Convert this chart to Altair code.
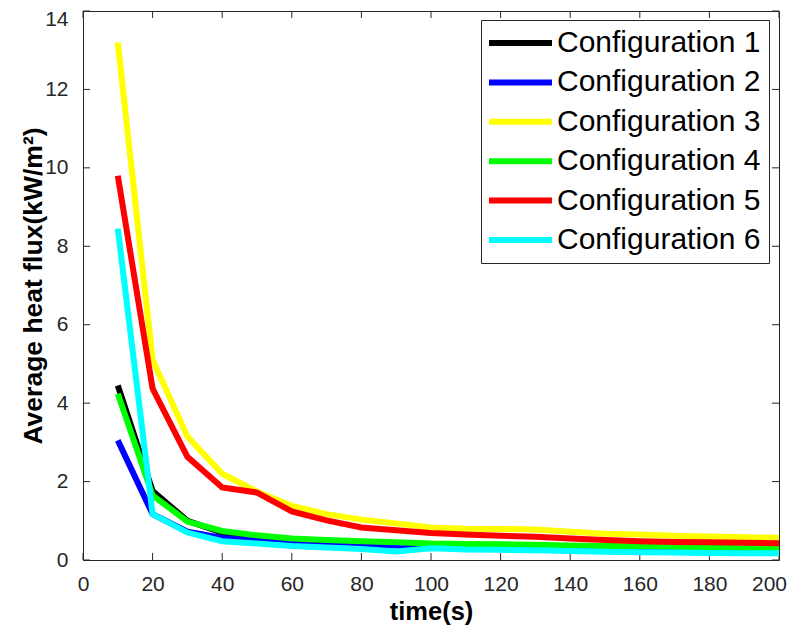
import altair as alt
import pandas as pd

# time axis (s) and average heat flux (kW/m^2) per configuration
times = [10, 20, 30, 40, 50, 60, 70, 80, 90, 100,
         110, 120, 130, 140, 150, 160, 170, 180, 190, 200]

config_1 = [4.45, 1.76, 1.00, 0.70, 0.58, 0.50, 0.46, 0.43, 0.40, 0.38,
            0.37, 0.36, 0.35, 0.33, 0.32, 0.31, 0.30, 0.29, 0.28, 0.27]
config_2 = [3.05, 1.17, 0.72, 0.56, 0.50, 0.46, 0.43, 0.40, 0.37, 0.35,
            0.33, 0.32, 0.31, 0.29, 0.27, 0.25, 0.23, 0.21, 0.19, 0.18]
config_3 = [13.2, 5.10, 3.15, 2.20, 1.74, 1.38, 1.17, 1.03, 0.93, 0.83,
            0.80, 0.79, 0.78, 0.72, 0.67, 0.65, 0.62, 0.60, 0.58, 0.57]
config_4 = [4.24, 1.65, 0.98, 0.74, 0.63, 0.55, 0.51, 0.48, 0.45, 0.42,
            0.41, 0.40, 0.39, 0.37, 0.36, 0.35, 0.34, 0.32, 0.31, 0.30]
config_5 = [9.80, 4.37, 2.63, 1.85, 1.72, 1.24, 1.01, 0.83, 0.76, 0.69,
            0.65, 0.62, 0.59, 0.55, 0.51, 0.48, 0.46, 0.45, 0.44, 0.43]
config_6 = [8.45, 1.17, 0.70, 0.48, 0.42, 0.36, 0.32, 0.28, 0.22, 0.30,
            0.27, 0.26, 0.25, 0.23, 0.21, 0.20, 0.19, 0.18, 0.17, 0.17]

names = ['Configuration 1', 'Configuration 2', 'Configuration 3',
         'Configuration 4', 'Configuration 5', 'Configuration 6']
colors = ['#000000', '#0000FF', '#FFFF00', '#00FF00', '#FF0000', '#00FFFF']

x_ticks = [0, 20, 40, 60, 80, 100, 120, 140, 160, 180, 200]
y_ticks = [0, 2, 4, 6, 8, 10, 12, 14]

series = [config_1, config_2, config_3, config_4, config_5, config_6]
rows = []
for i, (name, vals) in enumerate(zip(names, series)):
    for t, v in zip(times, vals):
        rows.append({'time': t, 'flux': v, 'config': name, 'order': i})
df = pd.DataFrame(rows)

W, H = 696, 549
AXC = '#262626'
xs = alt.Scale(domain=[0, 200], nice=False)
ys = alt.Scale(domain=[0, 14], nice=False)

# legend line, 63px long: symbol size 400 gives a 10px unit, centre sits 13px in
legend_line = 'M-1.5,0H4.8'

# nudge the end labels so they stay inside the page
x_label_shift = {'condition': {'test': 'datum.value == 200', 'value': -10}, 'value': 0}
y_label_shift = {'condition': {'test': 'datum.value == 14', 'value': 8}, 'value': 0}

lines = alt.Chart(df).mark_line(strokeWidth=6, clip=True).encode(
    x=alt.X('time:Q', scale=xs, title='time(s)',
            axis=alt.Axis(values=x_ticks, ticks=False, tickSize=0, domain=False, grid=False,
                          labelFontSize=21, labelColor=AXC, labelPadding=30,
                          labelBaseline='alphabetic', labelFlush=False,
                          labelOffset=x_label_shift,
                          titleFontSize=25.5, titleFontWeight='bold', titleColor='#000000',
                          titleX=W / 2, titleY=59, titleBaseline='alphabetic')),
    y=alt.Y('flux:Q', scale=ys, title='Average heat flux(kW/m²)',
            axis=alt.Axis(values=y_ticks, ticks=False, tickSize=0, domain=False, grid=False,
                          labelFontSize=21, labelColor=AXC, labelPadding=15,
                          labelFlush=False, labelOffset=y_label_shift,
                          titleFontSize=26.5, titleFontWeight='bold', titleColor='#000000',
                          titleX=-42, titleY=H / 2, titleAngle=-90,
                          titleBaseline='alphabetic', titleAlign='center')),
    color=alt.Color('config:N', scale=alt.Scale(domain=names, range=colors),
                    legend=alt.Legend(title=None, orient='none', legendX=398, legendY=9,
                                      symbolType=legend_line, symbolSize=400,
                                      symbolStrokeWidth=6, labelFontSize=30,
                                      labelColor='#000000', labelLimit=400,
                                      labelOffset=38, rowPadding=9.4, padding=8,
                                      strokeColor=AXC, fillColor='white')),
    order='order:Q'
)

xt = pd.DataFrame({'t': x_ticks})
yt = pd.DataFrame({'t': y_ticks})

tick_style = dict(color=AXC, strokeWidth=1)
x_bottom = alt.Chart(xt).mark_rule(**tick_style).encode(
    x=alt.X('t:Q', scale=xs), y=alt.value(H), y2=alt.value(H - 7))
x_top = alt.Chart(xt).mark_rule(**tick_style).encode(
    x=alt.X('t:Q', scale=xs), y=alt.value(0), y2=alt.value(7))
y_left = alt.Chart(yt).mark_rule(**tick_style).encode(
    y=alt.Y('t:Q', scale=ys), x=alt.value(0), x2=alt.value(7))
y_right = alt.Chart(yt).mark_rule(**tick_style).encode(
    y=alt.Y('t:Q', scale=ys), x=alt.value(W), x2=alt.value(W - 7))

chart = alt.layer(x_bottom, x_top, y_left, y_right, lines).properties(
    width=W, height=H,
    autosize=alt.AutoSizeParams(type='none'),
    padding={'left': 75, 'top': 3, 'right': 8, 'bottom': 66},
).configure(font='Liberation Sans').configure_view(
    stroke=AXC, strokeWidth=1
)

chart.save("out.html", embed_options={"renderer": "svg", "actions": False})
